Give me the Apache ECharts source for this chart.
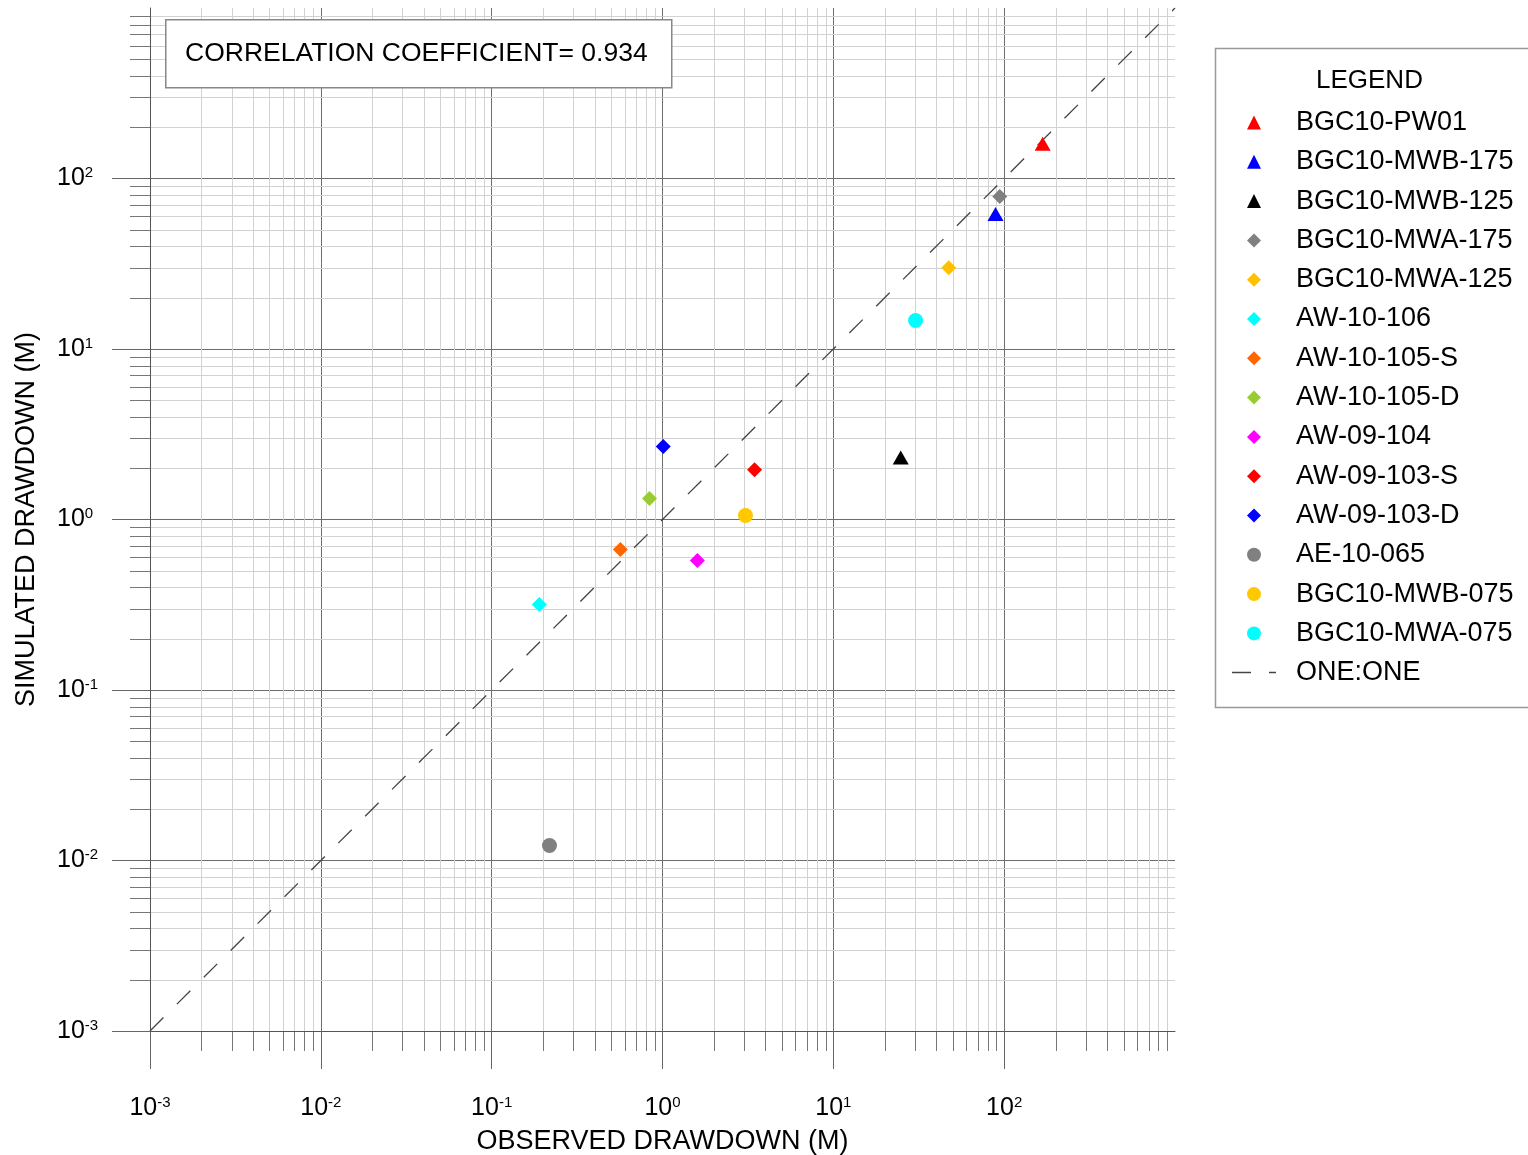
<!DOCTYPE html>
<html><head><meta charset="utf-8">
<script src="https://cdn.jsdelivr.net/npm/echarts@6/dist/echarts.min.js"></script>
<style>html,body{margin:0;padding:0;background:#fff}#c{width:1528px;height:1155px}</style>
</head><body><div id="c"></div>
<script>
// ---- data ----
const wellNames = ['BGC10-PW01','BGC10-MWB-175','BGC10-MWB-125','BGC10-MWA-175','BGC10-MWA-125','AW-10-106','AW-10-105-S','AW-10-105-D','AW-09-104','AW-09-103-S','AW-09-103-D','AE-10-065','BGC10-MWB-075','BGC10-MWA-075'];
const observed  = [168, 89, 24.8, 94.2, 47.4, 0.19, 0.567, 0.839, 1.60, 3.46, 1.01, 0.218, 3.06, 30.3];
const simulated = [160, 62, 2.31, 78.4, 30.0, 0.317, 0.667, 1.33, 0.575, 1.96, 2.68, 0.01225, 1.055, 14.7];
const oneToOneName = 'ONE:ONE';
const oneToOne = [[0.001, 0.001], [1000, 1000]];
const correlation = 0.934;
const axisMin = 0.001, axisMax = 1000;
const majorTickLabels = [0.001, 0.01, 0.1, 1, 10, 100];

// ---- styles ----
const wellSymbols = ['triangle','triangle','triangle','diamond','diamond','diamond','diamond','diamond','diamond','diamond','diamond','circle','circle','circle'];
const wellColors  = ['#ff0000','#0000ff','#000000','#808080','#ffc000','#00ffff','#ff6600','#99cc33','#ff00ff','#ff0000','#0000ff','#808080','#ffc800','#00ffff'];
const FONT = 'Liberation Sans, Arial, sans-serif';

// minor tick positions (2..9 x 10^k)
const minorVals = [];
for (let k = -3; k < 3; k++) for (let m = 2; m <= 9; m++) minorVals.push(+(m * Math.pow(10, k)).toPrecision(3));

function symSize(s){ return s === 'triangle' ? [16, 14] : 15; }

const chart = echarts.init(document.getElementById('c'), null, {renderer: 'canvas'});

function supLabel(v){ const e = Math.round(Math.log10(v)); if (e >= 3) return ''; return '{b|10}{s|' + e + '}'; }
const richLab = { b: {fontSize: 25, fontFamily: FONT, color: '#000', lineHeight: 26}, s: {fontSize: 15, fontFamily: FONT, color: '#000', verticalAlign: 'top', lineHeight: 15} };

function minorRender(isX){
  return function(params, api){
    const cs = params.coordSys;
    if (isX){
      const x = Math.round(api.coord([api.value(0), 1])[0]) + 0.5;
      const yb = cs.y + cs.height;
      return {type: 'group', children: [
        {type: 'line', shape: {x1: x, y1: cs.y, x2: x, y2: yb}, style: {stroke: '#d2d2d2', lineWidth: 1}},
        {type: 'line', shape: {x1: x, y1: yb, x2: x, y2: yb + 20}, style: {stroke: '#777', lineWidth: 1}}
      ]};
    } else {
      const y = Math.round(api.coord([1, api.value(1)])[1]) + 0.5;
      return {type: 'group', children: [
        {type: 'line', shape: {x1: cs.x, y1: y, x2: cs.x + cs.width, y2: y}, style: {stroke: '#d2d2d2', lineWidth: 1}},
        {type: 'line', shape: {x1: cs.x - 20, y1: y, x2: cs.x, y2: y}, style: {stroke: '#777', lineWidth: 1}}
      ]};
    }
  };
}

const series = [
  {type: 'custom', name: 'minorX', data: minorVals.map(v => [v, 1]), renderItem: minorRender(true), z: 0, silent: true, clip: false},
  {type: 'custom', name: 'minorY', data: minorVals.map(v => [1, v]), renderItem: minorRender(false), z: 0, silent: true, clip: false},
  {type: 'line', name: oneToOneName, data: oneToOne, symbol: 'none', z: 3,
   lineStyle: {color: '#444', width: 1.3, type: [19, 19]}, itemStyle: {color: '#444'}}
];
wellNames.forEach((n, i) => {
  series.push({type: 'scatter', name: n, data: [[observed[i], simulated[i]]], symbol: wellSymbols[i],
    symbolSize: symSize(wellSymbols[i]), itemStyle: {color: wellColors[i], opacity: 1}, z: 5});
});

const axisCommon = {
  type: 'log', logBase: 10, min: axisMin, max: axisMax, nameLocation: 'middle',
  nameTextStyle: {fontSize: 27, fontFamily: FONT, color: '#000'},
  axisLine: {show: true, lineStyle: {color: '#555', width: 1}},
  axisTick: {show: true, length: 38, lineStyle: {color: '#666', width: 1}, customValues: majorTickLabels},
  splitLine: {show: true, lineStyle: {color: '#6e6e6e', width: 1}},
  minorTick: {show: false}, minorSplitLine: {show: false}
};

const legendText = {fontSize: 27, fontFamily: FONT, color: '#000', lineHeight: 26};

chart.setOption({
  backgroundColor: '#fff',
  animation: false,
  grid: {left: 150, top: 8, right: 353, bottom: 124, containLabel: false, outerBoundsMode: 'none'},
  xAxis: Object.assign({}, axisCommon, {name: 'OBSERVED DRAWDOWN (M)', nameGap: 97,
    axisLabel: {formatter: supLabel, rich: richLab, margin: 64, showMaxLabel: false}}),
  yAxis: Object.assign({}, axisCommon, {name: 'SIMULATED DRAWDOWN (M)', nameGap: 110,
    axisLabel: {formatter: supLabel, rich: richLab, margin: 93, align: 'left', showMaxLabel: false}}),
  legend: [
    {
      orient: 'vertical', left: 1247, top: 109, padding: 0,
      itemWidth: 14, itemHeight: 14, itemGap: 12.3, selectedMode: false,
      textStyle: Object.assign({padding: [0, 0, 0, 30]}, legendText),
      data: wellNames
    },
    {
      orient: 'vertical', left: 1232, top: 659, padding: 0,
      itemWidth: 44, itemHeight: 14, selectedMode: false,
      textStyle: Object.assign({padding: [0, 0, 0, 15]}, legendText),
      data: [{name: oneToOneName, icon: 'path://M0,0h19v1.4h-19zM37,0h7v1.4h-7z', itemStyle: {color: '#444'}}]
    }
  ],
  graphic: [
    {type: 'rect', left: 1213, top: 46, shape: {width: 330, height: 659}, style: {fill: 'none', stroke: '#999', lineWidth: 1.5}, z: 1},
    {type: 'text', left: 1316, top: 68, style: {text: 'LEGEND', font: '26px ' + FONT, fill: '#000'}, z: 2},
    {type: 'rect', left: 165, top: 19, shape: {width: 506, height: 68}, style: {fill: '#fff', stroke: '#888', lineWidth: 1.5}, z: 10},
    {type: 'text', left: 185, top: 40, style: {text: 'CORRELATION COEFFICIENT= ' + correlation.toFixed(3), font: '26.5px ' + FONT, fill: '#000'}, z: 11}
  ],
  series: series
});
</script></body></html>
